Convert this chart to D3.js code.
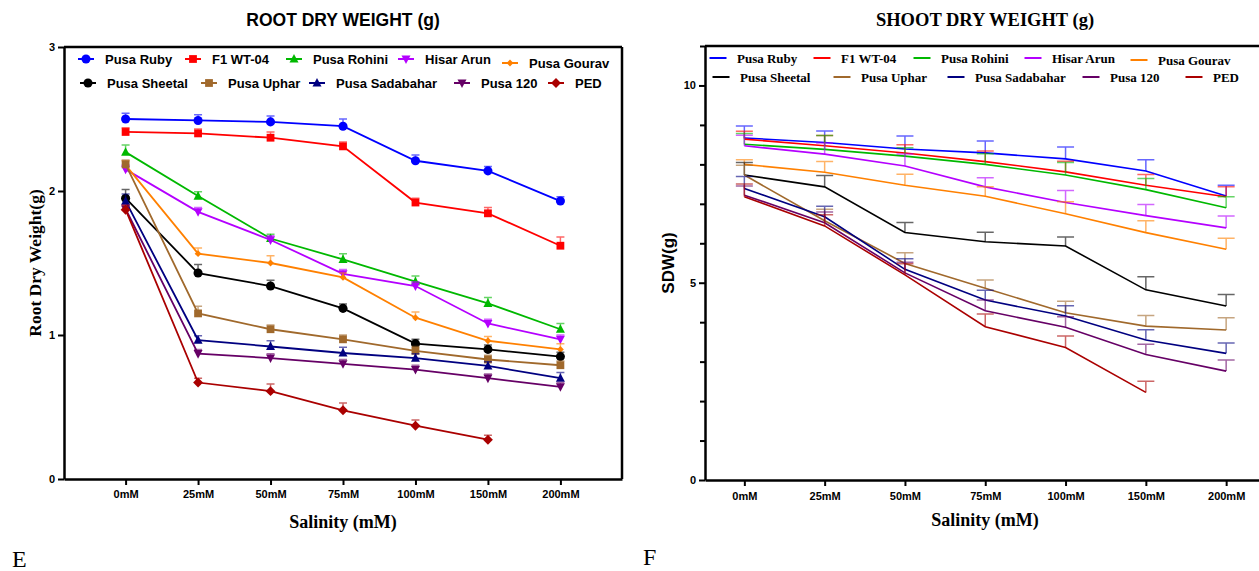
<!DOCTYPE html>
<head>
  <meta charset="utf-8">
  <script src="https://d3js.org/d3.v7.min.js"></script>
  <title>Root and shoot dry weight</title>
  <style>
    body { margin: 0; background: #fff; }
    svg { display: block; }
    .tick text { font-family: "Liberation Sans", Arial, sans-serif; font-weight: bold; fill: #000; }
    .serif { font-family: "Liberation Serif", "Times New Roman", serif; font-weight: bold; }
    .sans { font-family: "Liberation Sans", Arial, sans-serif; font-weight: bold; }
  </style>
</head>
<body>
<svg width="1259" height="571"></svg>
<script>

var doses = ["0mM", "25mM", "50mM", "75mM", "100mM", "150mM", "200mM"];
var cultivars = ["Pusa Ruby", "F1 WT-04", "Pusa Rohini", "Hisar Arun", "Pusa Gourav",
                 "Pusa Sheetal", "Pusa Uphar", "Pusa Sadabahar", "Pusa 120", "PED"];
var colors = ["#0000ff", "#ff0000", "#00b800", "#b400ff", "#ff8000",
              "#000000", "#a0692c", "#000080", "#660066", "#aa0000"];
var symbols = ["circle", "square", "up", "down", "smalldiamond",
               "circle", "square", "up", "down", "diamond"];

// root dry weight (g), one row per cultivar, null = not measured
var rootMeans = [
  [2.50, 2.49, 2.48, 2.45, 2.21, 2.14, 1.93],
  [2.41, 2.40, 2.37, 2.31, 1.92, 1.845, 1.62],
  [2.27, 1.965, 1.67, 1.525, 1.37, 1.22, 1.04],
  [2.15, 1.855, 1.66, 1.425, 1.34, 1.08, 0.97],
  [2.18, 1.565, 1.50, 1.40, 1.12, 0.96, 0.90],
  [1.95, 1.43, 1.34, 1.185, 0.94, 0.90, 0.85],
  [2.185, 1.15, 1.04, 0.97, 0.89, 0.83, 0.79],
  [1.93, 0.965, 0.92, 0.875, 0.84, 0.785, 0.70],
  [1.875, 0.87, 0.84, 0.80, 0.76, 0.70, 0.64],
  [1.87, 0.67, 0.61, 0.477, 0.37, 0.273, null]
];
var rootErr = [
  [0.04, 0.04, 0.04, 0.05, 0.04, 0.03, 0.03],
  [0.03, 0.03, 0.04, 0.03, 0.03, 0.04, 0.06],
  [0.05, 0.03, 0.03, 0.04, 0.04, 0.04, 0.04],
  [0.03, 0.03, 0.03, 0.03, 0.03, 0.03, 0.03],
  [0.03, 0.04, 0.05, 0.03, 0.04, 0.03, 0.04],
  [0.06, 0.06, 0.04, 0.03, 0.03, 0.03, 0.03],
  [0.03, 0.05, 0.03, 0.03, 0.03, 0.03, 0.03],
  [0.05, 0.03, 0.04, 0.04, 0.03, 0.03, 0.04],
  [0.03, 0.03, 0.03, 0.03, 0.03, 0.03, 0.03],
  [0.03, 0.03, 0.05, 0.05, 0.04, 0.03, null]
];

// shoot dry weight (g)
var shootMeans = [
  [8.67, 8.555, 8.39, 8.29, 8.14, 7.83, 7.20],
  [8.64, 8.47, 8.29, 8.07, 7.81, 7.47, 7.18],
  [8.51, 8.38, 8.21, 8.00, 7.73, 7.36, 6.90],
  [8.47, 8.26, 7.96, 7.43, 7.035, 6.70, 6.39],
  [8.00, 7.80, 7.47, 7.19, 6.75, 6.27, 5.85],
  [7.73, 7.43, 6.275, 6.04, 5.93, 4.82, 4.41],
  [7.73, 6.57, 5.49, 4.86, 4.24, 3.90, 3.80],
  [7.39, 6.67, 5.34, 4.56, 4.155, 3.55, 3.21],
  [7.22, 6.52, 5.25, 4.29, 3.87, 3.18, 2.76],
  [7.18, 6.44, 5.20, 3.885, 3.36, 2.22, null]
];
var shootErr = [
  [0.30, 0.29, 0.33, 0.30, 0.30, 0.29, 0.27],
  [0.20, 0.26, 0.21, 0.27, 0.27, 0.27, 0.25],
  [0.27, 0.35, 0.21, 0.27, 0.32, 0.28, 0.28],
  [0.27, 0.28, 0.30, 0.23, 0.30, 0.28, 0.30],
  [0.12, 0.27, 0.28, 0.24, 0.30, 0.30, 0.28],
  [0.32, 0.29, 0.25, 0.24, 0.23, 0.33, 0.29],
  [0.25, 0.29, 0.27, 0.21, 0.29, 0.27, 0.31],
  [0.30, 0.27, 0.27, 0.25, 0.26, 0.26, 0.26],
  [0.23, 0.27, 0.27, 0.27, 0.27, 0.26, 0.28],
  [0.32, 0.28, 0.28, 0.32, 0.29, 0.28, null]
];

var svg = d3.select("svg");

function symbolPath(kind, s) {
  if (kind == "circle") return d3.symbol().type(d3.symbolCircle).size(s * s * 0.8)();
  if (kind == "square") return d3.symbol().type(d3.symbolSquare).size(s * s * 0.75)();
  if (kind == "up") return "M0," + (-s * 0.55) + "L" + (s * 0.5) + "," + (s * 0.4) + "L" + (-s * 0.5) + "," + (s * 0.4) + "Z";
  if (kind == "down") return "M0," + (s * 0.55) + "L" + (s * 0.5) + "," + (-s * 0.4) + "L" + (-s * 0.5) + "," + (-s * 0.4) + "Z";
  if (kind == "smalldiamond") return "M0," + (-s * 0.38) + "L" + (s * 0.38) + ",0L0," + (s * 0.38) + "L" + (-s * 0.38) + ",0Z";
  return "M0," + (-s * 0.55) + "L" + (s * 0.55) + ",0L0," + (s * 0.55) + "L" + (-s * 0.55) + ",0Z";
}

function drawChart(cfg) {
  var x = d3.scalePoint().domain(doses).range([cfg.left, cfg.right]).padding(cfg.pad);
  var y = d3.scaleLinear().domain([0, cfg.ymax]).range([cfg.bottom, cfg.top]);
  var g = svg.append("g");

  // frame
  g.append("line").attr("x1", cfg.left).attr("x2", cfg.right)
    .attr("y1", cfg.top).attr("y2", cfg.top)
    .attr("stroke", "#000").attr("stroke-width", 2.5);
  g.append("line").attr("x1", cfg.right).attr("x2", cfg.right)
    .attr("y1", cfg.top).attr("y2", cfg.bottom)
    .attr("stroke", "#000").attr("stroke-width", 2.5);

  var line = d3.line()
    .defined(function(d) { return d != null; })
    .x(function(d, i) { return x(doses[i]); })
    .y(function(d) { return y(d); });

  cfg.means.forEach(function(vals, k) {
    var s = g.append("g");
    s.append("path")
      .attr("d", line(vals))
      .attr("fill", "none")
      .attr("stroke", colors[k])
      .attr("stroke-width", cfg.lineWidth);

    vals.forEach(function(v, i) {
      if (v == null) return;
      var e = cfg.errs[k][i];
      var cx = x(doses[i]);
      s.append("path")
        .attr("d", "M" + cx + "," + y(v) + "V" + y(v + e) + "M" + (cx - cfg.cap) + "," + y(v + e) + "H" + (cx + cfg.cap))
        .attr("fill", "none")
        .attr("stroke", colors[k])
        .attr("stroke-opacity", cfg.errOpacity)
        .attr("stroke-width", cfg.errWidth);
      if (cfg.markers) {
        s.append("path")
          .attr("transform", "translate(" + cx + "," + y(v) + ")")
          .attr("d", symbolPath(symbols[k], 9))
          .attr("fill", colors[k]);
      }
    });
  });

  // axes
  var yAxis = d3.axisLeft(y).tickValues(cfg.yticks).tickFormat(d3.format("d"))
    .tickSize(6).tickSizeOuter(0).tickPadding(3);
  var ya = g.append("g").attr("transform", "translate(" + cfg.left + ",0)").call(yAxis);
  ya.select(".domain").attr("stroke-width", 2.5);
  ya.selectAll(".tick line").attr("stroke-width", 2);
  ya.selectAll(".tick text").style("font-size", "11px");
  if (cfg.minor) {
    g.append("g").attr("transform", "translate(" + cfg.left + ",0)")
      .call(d3.axisLeft(y).tickValues(cfg.minor).tickFormat("").tickSize(5).tickSizeOuter(0))
      .call(function(a) { a.select(".domain").remove(); a.selectAll("line").attr("stroke-width", 2); });
  }

  var xa = g.append("g").attr("transform", "translate(0," + cfg.bottom + ")")
    .call(d3.axisBottom(x).tickSize(6).tickSizeOuter(0).tickPadding(cfg.xpad));
  xa.select(".domain").attr("stroke-width", 2.5);
  xa.selectAll(".tick line").attr("stroke-width", 2);
  xa.selectAll(".tick text").style("font-size", "11px");

  // legend
  cfg.legend.forEach(function(p, k) {
    var lg = g.append("g").attr("transform", "translate(" + p[0] + "," + p[1] + ")");
    lg.append("line").attr("x1", -cfg.legendLine).attr("x2", cfg.legendLine)
      .attr("stroke", colors[k]).attr("stroke-width", 2);
    if (cfg.markers) lg.append("path").attr("d", symbolPath(symbols[k], 9)).attr("fill", colors[k]);
    lg.append("text").attr("class", cfg.legendClass)
      .attr("x", cfg.legendGap).attr("y", 4.5)
      .style("font-size", "13px")
      .text(cultivars[k]);
  });

  svg.append("text").attr("class", cfg.titleClass)
    .attr("x", cfg.titleX).attr("y", 26).attr("text-anchor", "middle")
    .style("font-size", cfg.titleSize).text(cfg.title);

  svg.append("text").attr("class", cfg.ylabelClass)
    .attr("transform", "translate(" + cfg.ylabelX + "," + ((cfg.top + cfg.bottom) / 2) + ") rotate(-90)")
    .attr("text-anchor", "middle")
    .style("font-size", cfg.ylabelSize).text(cfg.ylabel);

  svg.append("text").attr("class", "serif")
    .attr("x", cfg.titleX).attr("y", cfg.xlabelY).attr("text-anchor", "middle")
    .style("font-size", "18px").text("Salinity (mM)");
}

drawChart({
  left: 64, right: 622, top: 47, bottom: 479, pad: 0.85, ymax: 3,
  yticks: [0, 1, 2, 3], minor: null, xpad: 5,
  means: rootMeans, errs: rootErr, markers: true,
  lineWidth: 1.8, cap: 4, errWidth: 1.5, errOpacity: 0.6,
  legend: [[86, 59], [193, 59], [294, 59], [406, 59], [510, 63],
           [88, 83], [209, 83], [317, 83], [462, 83], [556, 83]],
  legendLine: 8, legendGap: 19, legendClass: "sans",
  title: "ROOT DRY WEIGHT (g)", titleX: 343, titleSize: "17.5px", titleClass: "sans",
  ylabel: "Root Dry Weight(g)", ylabelX: 41, ylabelSize: "17.5px", ylabelClass: "serif",
  xlabelY: 528
});

drawChart({
  left: 705, right: 1265.5, top: 46, bottom: 480, pad: 0.49, ymax: 11,
  yticks: [0, 5, 10], minor: [1, 2, 3, 4, 6, 7, 8, 9, 11], xpad: 6,
  means: shootMeans, errs: shootErr, markers: false,
  lineWidth: 1.6, cap: 8.5, errWidth: 1.5, errOpacity: 0.6,
  legend: [[718, 58], [822, 58], [922, 58], [1033, 58], [1139, 60],
           [721, 77], [842, 77], [956, 77], [1091, 77], [1194, 77]],
  legendLine: 8.5, legendGap: 19, legendClass: "serif",
  title: "SHOOT DRY WEIGHT (g)", titleX: 985, titleSize: "18.5px", titleClass: "serif",
  ylabel: "SDW(g)", ylabelX: 674, ylabelSize: "17px", ylabelClass: "sans",
  xlabelY: 526
});

svg.append("text").attr("x", 12).attr("y", 567)
  .style("font-family", "Liberation Serif, serif").style("font-size", "24px").text("E");
svg.append("text").attr("x", 643).attr("y", 565)
  .style("font-family", "Liberation Serif, serif").style("font-size", "24px").text("F");

</script>
</body>
